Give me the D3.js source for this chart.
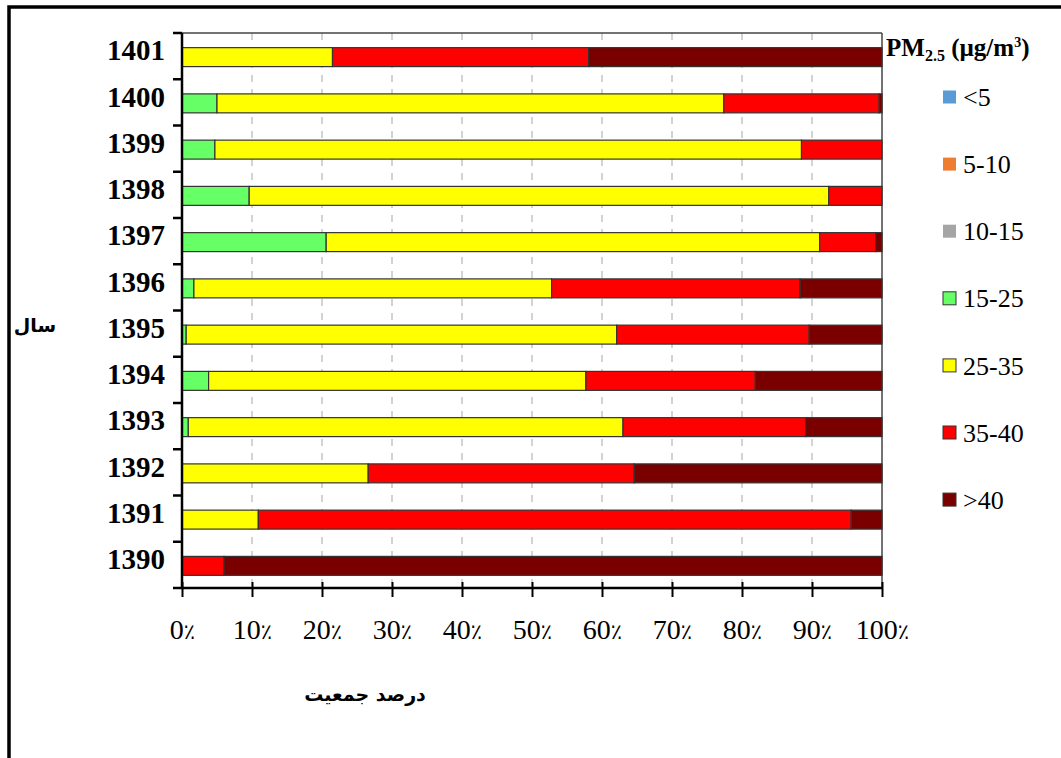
<!DOCTYPE html>
<html>
<head>
<meta charset="utf-8">
<script src="https://cdn.jsdelivr.net/npm/d3@7"></script>
<style>
  body { margin: 0; background: #fff; }
  svg { display: block; }
</style>
</head>
<body>
<div id="chart"></div>
<script>
// years, top to bottom
var years = ['1401', '1400', '1399', '1398', '1397', '1396', '1395', '1394', '1393', '1392', '1391', '1390'];

// percent of population per PM2.5 class
var lt5    = [0, 0, 0, 0, 0, 0, 0, 0, 0, 0, 0, 0];
var b5_10  = [0, 0, 0, 0, 0, 0, 0, 0, 0, 0, 0, 0];
var b10_15 = [0, 0, 0, 0, 0, 0, 0, 0, 0, 0, 0, 0];
var b15_25 = [0, 5.0, 4.7, 9.6, 20.6, 1.7, 0.6, 3.8, 0.9, 0, 0, 0];
var b25_35 = [21.5, 72.4, 83.8, 82.8, 70.5, 51.1, 61.5, 53.9, 62.1, 26.6, 10.9, 0];
var b35_40 = [36.6, 22.2, 11.5, 7.6, 8.0, 35.5, 27.5, 24.2, 26.1, 38.0, 84.7, 6.0];
var gt40   = [41.9, 0.4, 0, 0, 0.9, 11.7, 10.4, 18.1, 10.9, 35.4, 4.4, 94.0];

var classNames = ['<5', '5-10', '10-15', '15-25', '25-35', '35-40', '>40'];
var classColors = ['#5b9bd5', '#ed7d31', '#a5a5a5', '#66ff66', '#ffff00', '#ff0000', '#7a0000'];
var xTicks = [0, 10, 20, 30, 40, 50, 60, 70, 80, 90, 100];

var serif = '"Liberation Serif", "DejaVu Serif", serif';

var svgWidth = 1061;
var svgHeight = 758;
var margin = { top: 33, left: 182, right: 179, bottom: 170 };
var chartWidth = svgWidth - margin.left - margin.right;   // 700
var chartHeight = svgHeight - margin.top - margin.bottom; // 555

var svg = d3.select('#chart')
  .append('svg')
  .attr('width', svgWidth)
  .attr('height', svgHeight);

// outer frame (only left/top visible)
svg.append('rect')
  .attr('x', 9).attr('y', 7)
  .attr('width', 1200).attr('height', 900)
  .attr('fill', 'none')
  .attr('stroke', '#000')
  .attr('stroke-width', 3.5);

var chartGroup = svg.append('g')
  .attr('transform', `translate(${margin.left}, ${margin.top})`);

// build rows for the stack
var seriesArrays = [lt5, b5_10, b10_15, b15_25, b25_35, b35_40, gt40];
var rows = years.map(function(yr, i) {
  var row = { year: yr };
  classNames.forEach(function(c, k) { row[c] = seriesArrays[k][i]; });
  return row;
});

var stacked = d3.stack().keys(classNames)(rows);

var xScale = d3.scaleLinear().domain([0, 100]).range([0, chartWidth]);
var yScale = d3.scaleBand()
  .domain(years)
  .range([1, chartHeight + 1])
  .paddingInner(0.59)
  .paddingOuter(0.295);

// dashed vertical grid
chartGroup.selectAll('.grid')
  .data(xTicks.slice(1, -1))
  .enter()
  .append('line')
  .attr('class', 'grid')
  .attr('x1', d => xScale(d))
  .attr('x2', d => xScale(d))
  .attr('y1', 0)
  .attr('y2', chartHeight)
  .attr('stroke', '#d3d3d3')
  .attr('stroke-width', 2)
  .attr('stroke-dasharray', '7,7');

// plot frame top/right
chartGroup.append('line')
  .attr('x1', 0).attr('x2', chartWidth).attr('y1', 0).attr('y2', 0)
  .attr('stroke', '#444').attr('stroke-width', 1.5);
chartGroup.append('line')
  .attr('x1', chartWidth).attr('x2', chartWidth).attr('y1', 0).attr('y2', chartHeight)
  .attr('stroke', '#444').attr('stroke-width', 1.5);

// bars
var layers = chartGroup.selectAll('.layer')
  .data(stacked)
  .enter()
  .append('g')
  .attr('class', 'layer')
  .attr('fill', (d, i) => classColors[i]);

layers.selectAll('rect')
  .data(d => d.filter(p => p[1] - p[0] > 0))
  .enter()
  .append('rect')
  .attr('x', d => xScale(d[0]))
  .attr('width', d => xScale(d[1]) - xScale(d[0]))
  .attr('y', d => yScale(d.data.year))
  .attr('height', yScale.bandwidth())
  .attr('stroke', '#333')
  .attr('stroke-width', 1.2);

// y axis line with ticks at band boundaries
chartGroup.append('line')
  .attr('x1', 0).attr('x2', 0).attr('y1', 0).attr('y2', chartHeight)
  .attr('stroke', '#000').attr('stroke-width', 2.5);

var step = yScale.step();
chartGroup.selectAll('.ytick')
  .data(d3.range(years.length))
  .enter()
  .append('line')
  .attr('class', 'ytick')
  .attr('x1', -9).attr('x2', 0)
  .attr('y1', d => d * step)
  .attr('y2', d => d * step)
  .attr('stroke', '#000').attr('stroke-width', 2.5);

chartGroup.selectAll('.ylabel')
  .data(years)
  .enter()
  .append('text')
  .attr('class', 'ylabel')
  .attr('x', -17)
  .attr('y', d => yScale(d) + yScale.bandwidth() / 2 - 7)
  .attr('dy', '0.35em')
  .attr('text-anchor', 'end')
  .style('font-family', serif)
  .style('font-weight', 'bold')
  .style('font-size', '29px')
  .text(d => d);

// x axis
var xAxis = d3.axisBottom(xScale)
  .tickValues(xTicks)
  .tickFormat('')
  .tickSizeOuter(0)
  .tickSize(9);

var xAxisG = chartGroup.append('g')
  .attr('class', 'x-axis')
  .attr('transform', `translate(0, ${chartHeight})`)
  .call(xAxis);

xAxisG.select('.domain')
  .attr('d', `M-9,0H${chartWidth}`)
  .attr('stroke', '#000')
  .attr('stroke-width', 2.5);
xAxisG.selectAll('.tick line')
  .attr('y1', -6)
  .attr('stroke', '#000')
  .attr('stroke-width', 2);

// tick labels: digits in serif, percent sign separately
var tickText = xAxisG.selectAll('.tick')
  .append('text')
  .attr('y', 51)
  .attr('text-anchor', 'middle')
  .attr('fill', '#000')
  .style('font-family', serif)
  .style('font-size', '28px');
tickText.append('tspan').text(d => d);
tickText.append('tspan')
  .style('font-family', '"DejaVu Sans", sans-serif')
  .style('font-size', '21px')
  .text('٪');

// axis titles
svg.append('text')
  .attr('x', 365).attr('y', 701)
  .attr('text-anchor', 'middle')
  .style('font-family', '"DejaVu Sans", sans-serif')
  .style('font-weight', 'bold')
  .style('font-size', '19px')
  .text('درصد جمعیت');

svg.append('text')
  .attr('x', 35).attr('y', 332)
  .attr('text-anchor', 'middle')
  .style('font-family', '"DejaVu Sans", sans-serif')
  .style('font-weight', 'bold')
  .style('font-size', '19px')
  .text('سال');

// legend
var legendTitle = svg.append('text')
  .attr('x', 886).attr('y', 56)
  .style('font-family', serif)
  .style('font-weight', 'bold')
  .style('font-size', '25px');
legendTitle.append('tspan').text('PM');
legendTitle.append('tspan').attr('dy', 5).style('font-size', '16px').text('2.5');
legendTitle.append('tspan').attr('dy', -5).text(' (µg/m');
legendTitle.append('tspan').attr('dy', -9).style('font-size', '14px').text('3');
legendTitle.append('tspan').attr('dy', 9).text(')');

var legend = svg.selectAll('.legend')
  .data(classNames)
  .enter()
  .append('g')
  .attr('class', 'legend')
  .attr('transform', (d, i) => `translate(943, ${97 + i * 67.1})`);

legend.append('rect')
  .attr('x', 0).attr('y', -6.5)
  .attr('width', 13).attr('height', 13)
  .attr('fill', (d, i) => classColors[i])
  .attr('stroke', (d, i) => i < 3 ? 'none' : '#333')
  .attr('stroke-width', 1);

legend.append('text')
  .attr('x', 20).attr('y', 0)
  .attr('dy', '0.35em')
  .style('font-family', serif)
  .style('font-size', '26px')
  .text(d => d);
</script>
</body>
</html>
